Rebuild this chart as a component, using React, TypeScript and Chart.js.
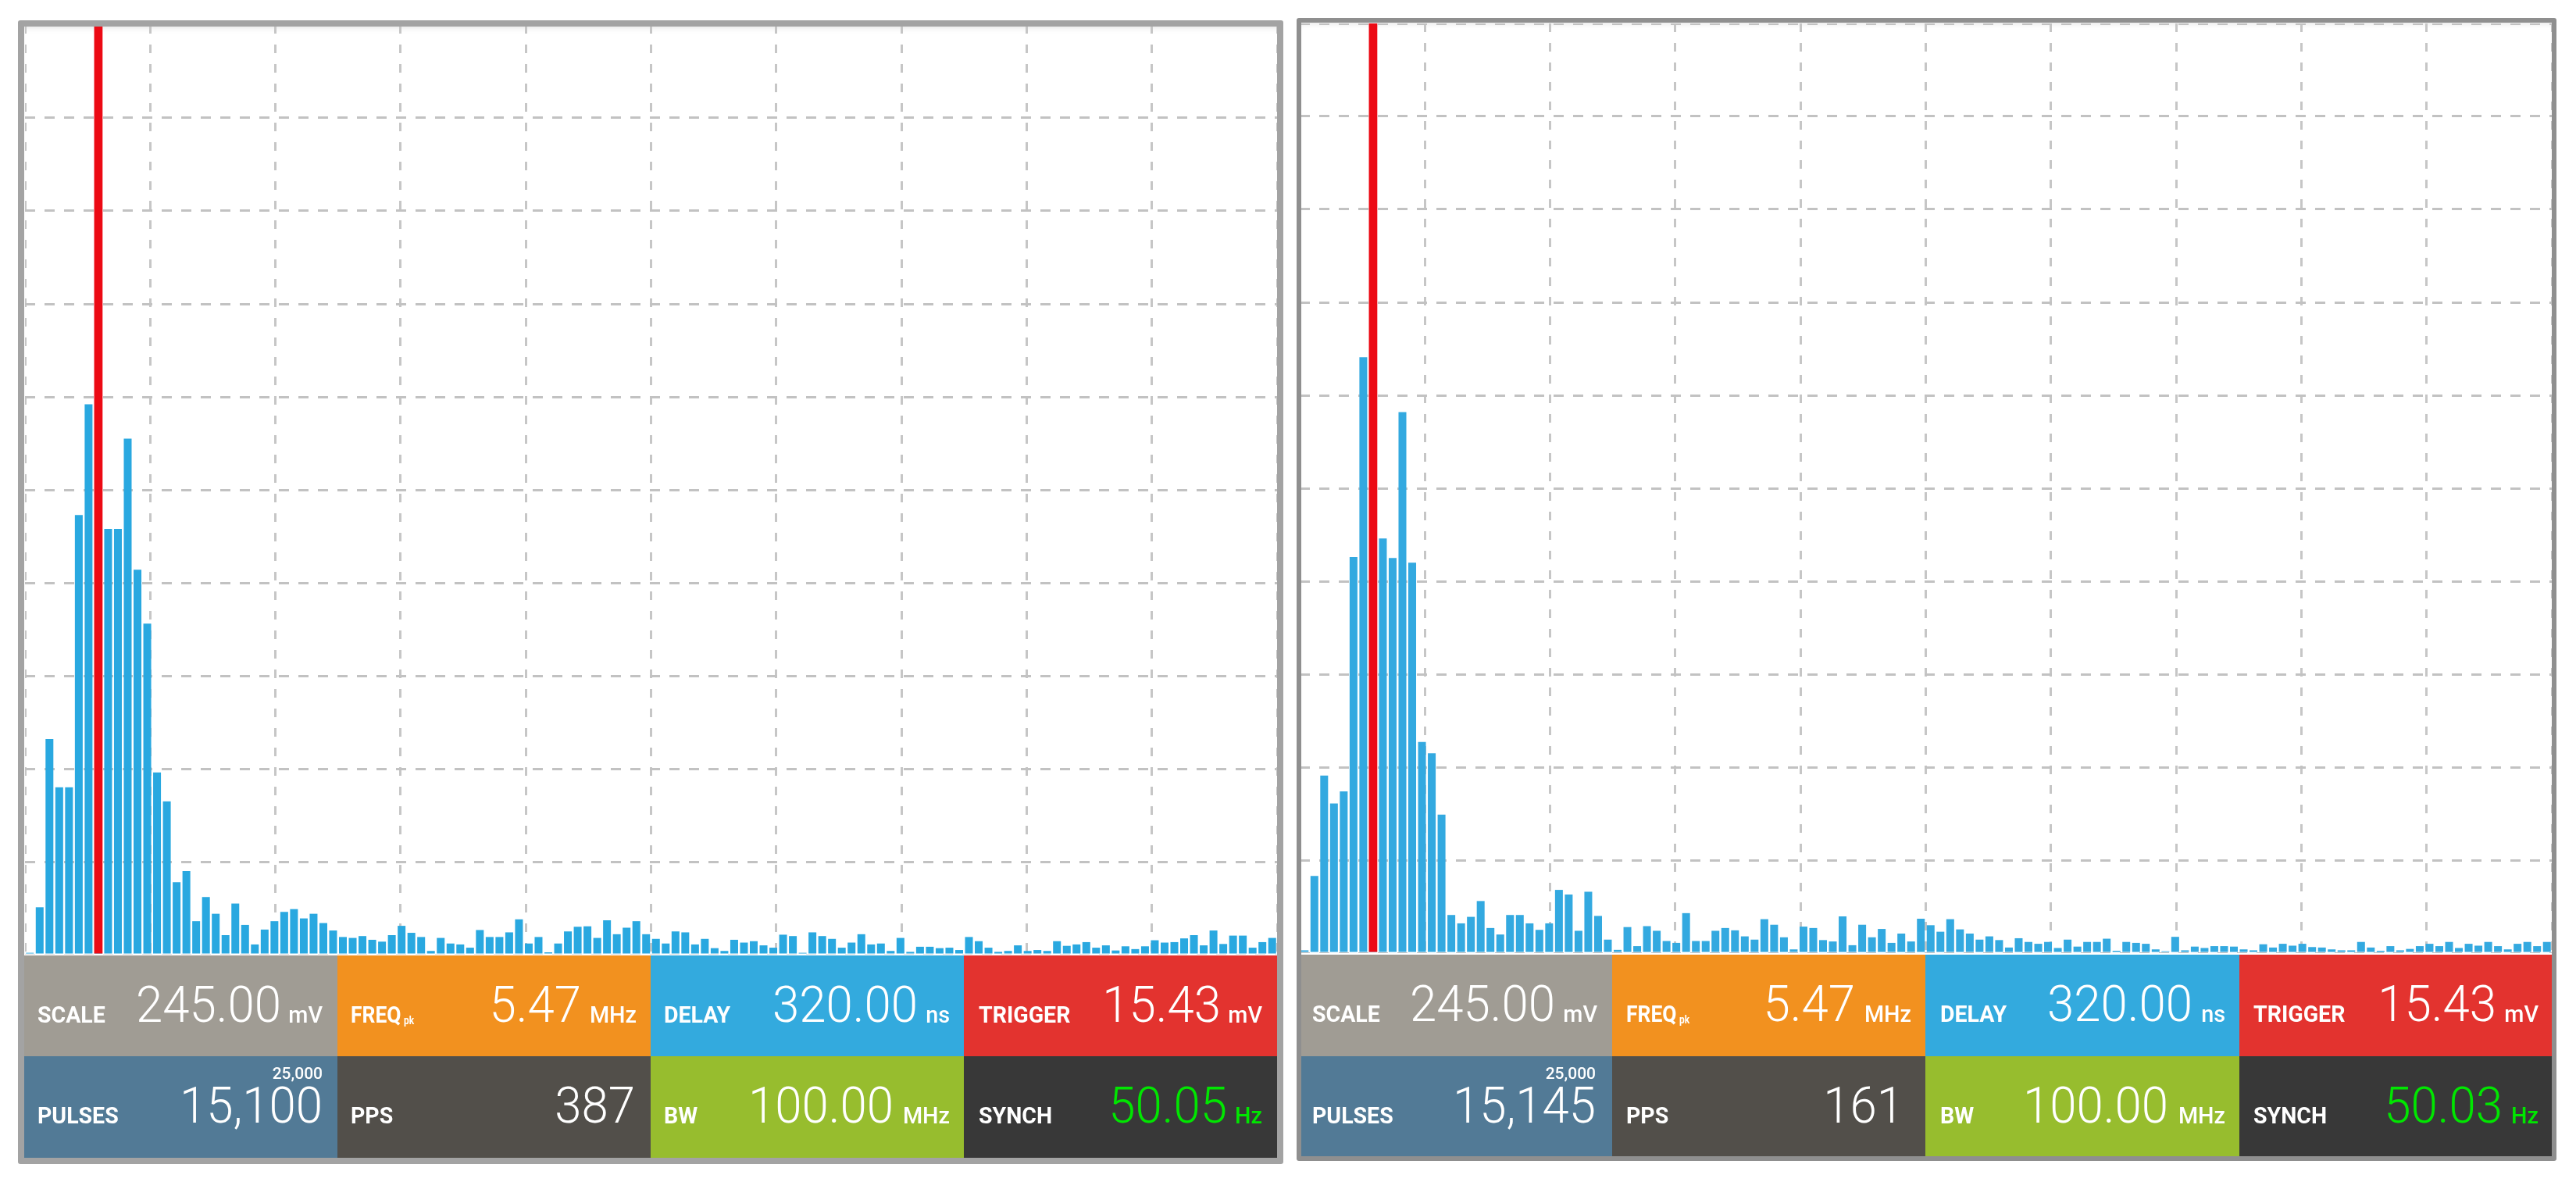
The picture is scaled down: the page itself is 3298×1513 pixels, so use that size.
import { Chart, registerables } from "chart.js";
import React, { useEffect, useRef } from "react";

Chart.register(...registerables);

// bin labels, 128 bins per sweep
const bins: string[] = Array.from({ length: 128 }, (_, i) => String(i));

const leftPulses = [
  0.2, 5.1, 23.2, 18, 18, 47.3, 59.2, 40, 45.8, 45.8, 55.5, 41.4, 35.6, 19.6, 16.5, 7.8,
  9, 3.6, 6.2, 4.4, 2.1, 5.5, 3.2, 1.1, 2.7, 3.6, 4.6, 4.9, 3.9, 4.4, 3.4, 2.6,
  1.9, 1.8, 2, 1.6, 1.4, 2.1, 3.1, 2.35, 1.9, 0.4, 1.8, 1.2, 1.1, 0.75, 2.65, 1.9,
  1.9, 2.4, 3.8, 1.2, 1.9, 0.25, 1.2, 2.5, 3, 3.05, 1.8, 3.7, 2.2, 2.9, 3.6, 2.2,
  1.7, 1.2, 2.5, 2.4, 1.1, 1.7, 0.7, 0.4, 1.6, 1.3, 1.45, 1, 0.75, 2.15, 2, 0.2,
  2.4, 2, 1.7, 0.75, 1.3, 2.2, 1.1, 1.2, 0.4, 1.8, 0.3, 0.85, 0.85, 0.7, 0.75, 0.5,
  1.9, 1.45, 0.75, 0.3, 0.4, 1, 0.4, 0.5, 0.4, 1.45, 0.95, 1.1, 1.35, 0.75, 1, 0.45,
  0.9, 0.6, 0.9, 1.55, 1.3, 1.35, 1.75, 2.1, 1, 2.6, 1.15, 2.05, 2.05, 0.75, 1.35, 1.8,
];

const rightPulses = [
  0.3, 8.3, 19.1, 16.1, 17.4, 42.6, 64.1, 50, 44.6, 42.5, 58.2, 42, 22.7, 21.5, 14.9, 4.1,
  3.2, 3.9, 5.6, 2.7, 2, 4.1, 4.1, 3.2, 2.5, 3.2, 6.8, 6.3, 2.4, 6.6, 4, 1.45,
  0.35, 2.8, 0.75, 2.9, 2.4, 1.3, 1.1, 4.3, 1.3, 1.3, 2.4, 2.7, 2.45, 1.8, 1.45, 3.65,
  3.05, 1.7, 0.4, 2.85, 2.7, 1.4, 1.25, 3.95, 0.85, 3.05, 1.7, 2.6, 1.1, 2.1, 1.25, 3.7,
  3, 2.3, 3.65, 2.55, 2.1, 1.45, 1.8, 1.4, 0.6, 1.6, 1.2, 1, 1.2, 0.55, 1.45, 0.7,
  1.2, 1.2, 1.55, 0.25, 1.2, 1.1, 1, 0.4, 0.2, 1.75, 0.3, 0.7, 0.55, 0.75, 0.75, 0.7,
  0.4, 0.3, 0.95, 0.6, 1, 0.8, 1, 0.65, 0.6, 0.4, 0.3, 0.3, 1.2, 0.6, 0.25, 0.75,
  0.3, 0.45, 0.75, 1, 0.75, 1.2, 0.55, 1, 0.8, 1.2, 0.75, 0.4, 1, 1.2, 0.75, 1.2,
];

// the red trigger marker sits on bin 7, full height
const markerBin = 7;
const markerLevel = 100;

const cellLabels = ["SCALE", "FREQ", "DELAY", "TRIGGER", "PULSES", "PPS", "BW", "SYNCH"];
const cellUnits = ["mV", "MHz", "ns", "mV", "", "", "MHz", "Hz"];
const leftValues = ["245.00", "5.47", "320.00", "15.43", "15,100", "387", "100.00", "50.05"];
const rightValues = ["245.00", "5.47", "320.00", "15.43", "15,145", "161", "100.00", "50.03"];
const pulseLimit = "25,000";

const cellColors = ["#a09c94", "#f2911f", "#33aade", "#e3332f", "#527a96", "#524f4a", "#97bd2e", "#383838"];

const TEXT_BASE = 86;

const HistogramPlot = ({ pulses, color }: { pulses: number[]; color: string }) => {
  const ref = useRef<HTMLCanvasElement | null>(null);

  useEffect(() => {
    if (!ref.current) return;
    const marker = bins.map((_, i) => (i === markerBin ? markerLevel : null));
    const chart = new Chart(ref.current, {
      type: "bar",
      data: {
        labels: bins,
        datasets: [
          { data: marker, backgroundColor: "#ec0a14", grouped: false, barPercentage: 0.86, categoryPercentage: 1 },
          { data: pulses, backgroundColor: color, grouped: false, barPercentage: 0.8, categoryPercentage: 1 },
        ],
      },
      options: {
        animation: false,
        responsive: false,
        devicePixelRatio: 1,
        layout: { padding: 0 },
        plugins: { legend: { display: false }, tooltip: { enabled: false } },
        scales: {
          x: { display: false, grid: { display: false } },
          xGrid: {
            type: "linear",
            position: "bottom",
            min: 0,
            max: 10,
            offset: false,
            ticks: { display: false, stepSize: 1 },
            grid: { offset: false, color: "#c6c6c6", lineWidth: 3, drawTicks: false, tickLength: 0 },
            border: { display: false, dash: [11, 14] },
          },
          y: {
            min: 0,
            max: 100,
            ticks: { display: false, stepSize: 10 },
            grid: { color: "#c2c2c2", lineWidth: 3, drawTicks: false, tickLength: 0 },
            border: { display: false, dash: [13, 12] },
          },
        },
      },
    });
    return () => chart.destroy();
  }, [pulses, color]);

  return <canvas ref={ref} width={1603} height={1190} style={{ display: "block", filter: "blur(0.7px)" }} />;
};

// text with its baseline at y; right means x is the right edge
const Txt = ({ text, x, y, size, weight, squeeze, color, right }: any) => (
  <span
    style={{
      position: "absolute",
      top: y - size * 0.841,
      left: x,
      font: `${weight} ${size}px/1 Roboto, sans-serif`,
      color: color || "#fff",
      whiteSpace: "nowrap",
      transform: right ? `translateX(-100%) scaleX(${squeeze})` : `scaleX(${squeeze})`,
      transformOrigin: right ? "right" : "left",
      filter: "blur(0.5px)",
    }}
  >
    {text}
  </span>
);

interface PanelProps {
  left: number;
  top: number;
  border: number;
  borderColor: string;
  innerW: number;
  innerH: number;
  plotX: number;
  plotY: number;
  stripY: number;
  columns: string;
  rows: string;
  pulses: number[];
  values: string[];
  color: string;
  labelX: number[];
  valueX: number[];
  unitX: number[];
}

const Panel = (p: PanelProps) => (
  <div
    style={{
      position: "absolute",
      left: p.left,
      top: p.top,
      width: p.innerW,
      height: p.innerH,
      border: `${p.border}px solid ${p.borderColor}`,
      borderRadius: 3,
      background: "#fff",
      overflow: "hidden",
      boxShadow: "inset 0 7px 8px -6px rgba(0,0,0,0.12)",
    }}
  >
    <div style={{ position: "absolute", left: p.plotX, top: p.plotY }}>
      <HistogramPlot pulses={p.pulses} color={p.color} />
    </div>
    <div style={{ position: "absolute", left: 0, top: p.stripY - 2, width: p.innerW, height: 2, background: "rgba(255,255,255,0.55)" }} />
    <div
      style={{
        position: "absolute",
        left: 0,
        top: p.stripY,
        width: p.innerW,
        bottom: 0,
        display: "grid",
        gridTemplateColumns: p.columns,
        gridTemplateRows: p.rows,
      }}
    >
      {cellLabels.map((label, i) => {
        const valueColor = i === 7 ? "#00e600" : "#fff";
        return (
          <div key={label} style={{ position: "relative", background: cellColors[i], overflow: "hidden" }}>
            <Txt text={label} x={p.labelX[i]} y={TEXT_BASE} size={30} weight={700} squeeze={label === "FREQ" ? 0.88 : 0.95} />
            {label === "FREQ" && <Txt text="pk" x={p.labelX[i] + 68} y={TEXT_BASE + 2} size={14} weight={700} squeeze={0.85} />}
            <Txt text={p.values[i]} x={p.valueX[i]} y={TEXT_BASE} size={65} weight={300} squeeze={0.95} color={valueColor} right />
            {cellUnits[i] && <Txt text={cellUnits[i]} x={p.unitX[i]} y={TEXT_BASE} size={30} weight={500} squeeze={0.96} color={valueColor} right />}
            {label === "PULSES" && <Txt text={pulseLimit} x={p.valueX[i]} y={TEXT_BASE - 56} size={21} weight={500} squeeze={1} right />}
          </div>
        );
      })}
    </div>
  </div>
);

export default function App() {
  useEffect(() => {
    document.body.style.margin = "0";
  }, []);

  return (
    <div style={{ position: "absolute", left: 0, top: 0, width: 3298, height: 1513, background: "#fff", overflow: "hidden" }}>
      <Panel
        left={23}
        top={26}
        border={8}
        borderColor="#a3a3a3"
        innerW={1604}
        innerH={1448}
        plotX={1}
        plotY={-2}
        stripY={1189}
        columns="401px 401px 401px 401px"
        rows="129px 130px"
        pulses={leftPulses}
        values={leftValues}
        color="#29a8e0"
        labelX={[17, 17, 17, 19, 17, 17, 17, 19]}
        valueX={[329, 312, 342, 329, 382, 381, 311, 337]}
        unitX={[382, 383, 383, 382, 0, 0, 383, 382]}
      />
      <Panel
        left={1660}
        top={23}
        border={6}
        borderColor="#8f8f8f"
        innerW={1601}
        innerH={1451}
        plotX={-2}
        plotY={1}
        stripY={1193}
        columns="398px 401px 402px 400px"
        rows="130px 128px"
        pulses={rightPulses}
        values={rightValues}
        color="#33a9e0"
        labelX={[14, 18, 19, 18, 14, 18, 19, 18]}
        valueX={[325, 311, 342, 329, 377, 373, 311, 337]}
        unitX={[379, 383, 384, 383, 0, 0, 384, 383]}
      />
    </div>
  );
}
